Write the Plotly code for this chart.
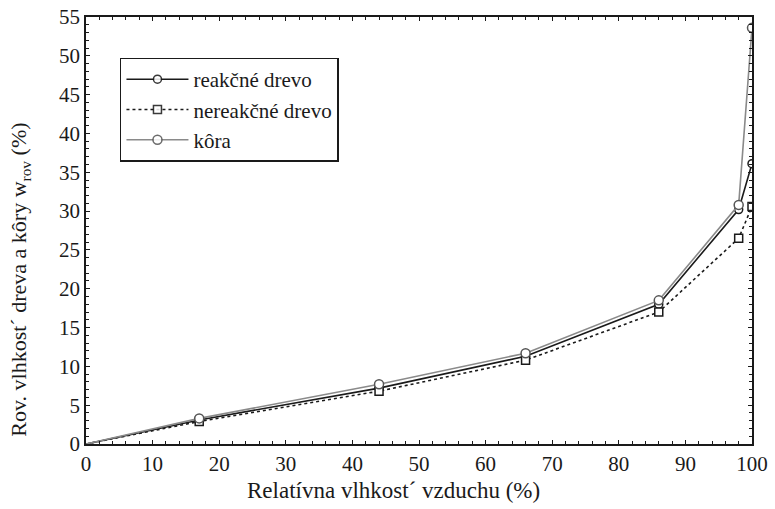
import plotly.graph_objects as go

rh = [0, 17, 44, 66, 86, 98, 100]
reakcne = [0, 3.1, 7.2, 11.3, 18.0, 30.2, 36.1]
nereakcne = [0, 2.9, 6.8, 10.8, 17.0, 26.5, 30.6]
kora = [0, 3.3, 7.7, 11.7, 18.5, 30.8, 53.6]

series_names = ["reakčné drevo", "nereakčné drevo", "kôra"]
x_title = "Relatívna vlhkost´ vzduchu (%)"
y_title = "Rov. vlhkost´ dreva a kôry w<sub>rov</sub> (%)"

x_ticks = list(range(0, 101, 10))
y_ticks = list(range(0, 56, 5))

font_family = "'Liberation Serif', 'Times New Roman', 'DejaVu Serif', serif"
marker_op = [0] + [1] * (len(rh) - 1)

fig = go.Figure()
fig.add_trace(go.Scatter(
    x=rh, y=reakcne, name=series_names[0], mode="lines+markers",
    line=dict(color="#1a1a1a", width=1.6),
    marker=dict(symbol="circle", size=8, color="white", opacity=marker_op,
                line=dict(color="#1a1a1a", width=1.5))))
fig.add_trace(go.Scatter(
    x=rh, y=nereakcne, name=series_names[1], mode="lines+markers",
    line=dict(color="#1a1a1a", width=1.6, dash="dot"),
    marker=dict(symbol="square", size=8, color="white", opacity=marker_op,
                line=dict(color="#1a1a1a", width=1.5))))
fig.add_trace(go.Scatter(
    x=rh, y=kora, name=series_names[2], mode="lines+markers",
    line=dict(color="#8a8a8a", width=1.6),
    marker=dict(symbol="circle", size=9, color="white", opacity=marker_op,
                line=dict(color="#555555", width=1.5))))

axis_common = dict(
    showline=True, linecolor="#1a1a1a", linewidth=1.5, mirror="allticks",
    ticks="inside", ticklen=4, tickcolor="#1a1a1a", showgrid=False,
    zeroline=False, automargin=False,
    tickfont=dict(family=font_family, size=21, color="#1a1a1a"),
)

fig.update_xaxes(
    range=[0, 100], tickvals=x_ticks, ticktext=[str(v) for v in x_ticks],
    minor=dict(dtick=2, ticks="inside", ticklen=3, tickcolor="#1a1a1a"),
    **axis_common)
fig.update_yaxes(
    range=[0, 55], tickvals=y_ticks, ticktext=[str(v) for v in y_ticks],
    minor=dict(dtick=1, ticks="inside", ticklen=3, tickcolor="#1a1a1a"),
    **axis_common)

fig.add_annotation(
    text=x_title, xref="paper", yref="paper", x=0.461, y=-0.108,
    xanchor="center", yanchor="middle", showarrow=False,
    font=dict(family=font_family, size=23, color="#1a1a1a"))
fig.add_annotation(
    text=y_title, xref="paper", yref="paper", x=-0.099, y=0.385,
    xanchor="center", yanchor="middle", showarrow=False, textangle=-90,
    font=dict(family=font_family, size=22, color="#1a1a1a"))

fig.update_layout(
    width=775, height=509,
    margin=dict(l=86, r=23, t=17, b=65),
    paper_bgcolor="white", plot_bgcolor="white",
    font=dict(family=font_family, color="#1a1a1a"),
    legend=dict(
        x=0.051, y=0.905, xanchor="left", yanchor="top",
        bgcolor="white", bordercolor="#1a1a1a", borderwidth=1.5,
        font=dict(family=font_family, size=21, color="#1a1a1a"),
        itemwidth=62, tracegroupgap=2,
    ),
)

fig.write_html("out.html", config={"displayModeBar": False})

with open("out.html", encoding="utf-8") as f:
    html = f.read()
html = html.replace("<body>", '<body style="margin:0;padding:0">', 1)
with open("out.html", "w", encoding="utf-8") as f:
    f.write(html)
